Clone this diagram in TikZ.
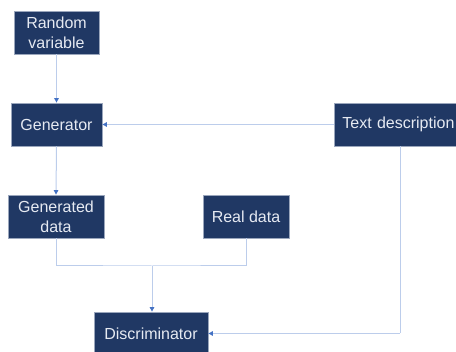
\documentclass[tikz,border=0pt]{standalone}
\usepackage{fontspec}
\setmainfont{Liberation Sans}
\usetikzlibrary{arrows.meta}
\definecolor{boxnavy}{HTML}{203864}
\definecolor{boxedge}{HTML}{9AA6BC}
\definecolor{boxtext}{HTML}{E6EAF2}
\definecolor{linkblue}{HTML}{BCCDEB}
\definecolor{tipblue}{HTML}{4472C4}
\tikzset{
  stage/.style={draw=boxedge, line width=0.8pt, fill=boxnavy, text=boxtext,
    font=\fontsize{16}{20}\selectfont, align=center, inner sep=0pt,
    minimum height=43pt},
  link/.style={draw=linkblue, line width=1pt},
  flow/.style={link, -{Triangle[length=4.5pt,width=4.5pt,color=tipblue]}}
}
\begin{document}
\begin{tikzpicture}[x=1pt,y=-1pt]
  \useasboundingbox (0,0) rectangle (456,352);
  % boxes
  \node[stage, minimum width=85pt] (rv) at (56.5,32.5) {Random\\variable};
  \node[stage, minimum width=91pt] (gen) at (56.5,124.5) {Generator};
  \node[stage, anchor=west, text width=124pt, align=left, inner xsep=8pt]
    (txt) at (334,124.5) {Text description};
  \node[stage, minimum width=96pt] (gdata) at (56,216.5) {Generated\\data};
  \node[stage, minimum width=86pt] (real) at (246,216.5) {Real data};
  \node[stage, minimum width=114pt] (disc) at (151,333.5) {Discriminator};
  % junction points
  \coordinate (merge) at (152,266);
  \coordinate (txtdrop) at (400,333.5);
  % connectors
  \draw[flow] (rv.south) -- (gen.north);
  \draw[flow] (txt.west) -- (gen.east);
  \draw[flow] (gen.south) -- (gdata.north);
  \draw[link] (gdata.south) |- (merge) -| (real.south);
  \draw[flow] (merge) -- (merge |- disc.north);
  \draw[link] (txt.south -| txtdrop) -- (txtdrop);
  \draw[flow] (txtdrop) -- (disc.east);
\end{tikzpicture}
\end{document}
